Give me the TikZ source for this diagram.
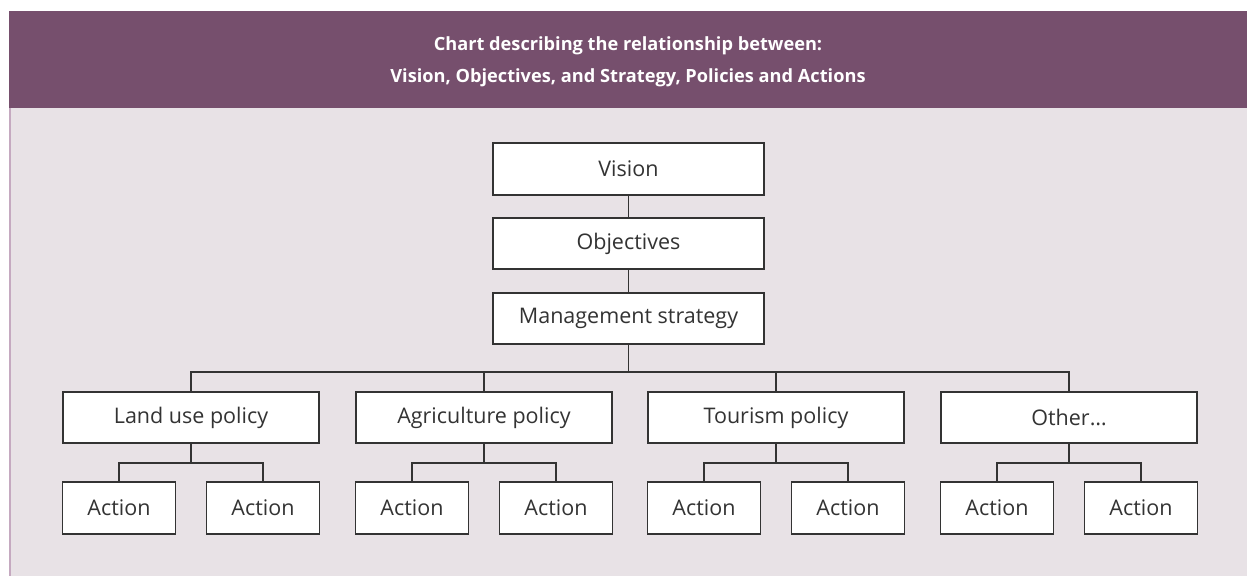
\documentclass[tikz,border=0pt]{standalone}
\usepackage{fontspec}
\setmainfont{Open Sans}
\usetikzlibrary{positioning}

\definecolor{plum}{HTML}{764F6D}
\definecolor{pale}{HTML}{E8E2E6}
\definecolor{rim}{HTML}{C5A9C0}
\definecolor{ink}{HTML}{333333}

\tikzset{
  box/.style={draw=ink, line width=1.4pt, fill=white, minimum width=271pt,
    minimum height=51pt, inner sep=0pt, font=\fontsize{21.5}{24}\selectfont, text=ink},
  policy/.style={box, minimum width=256pt},
  action/.style={box, minimum width=113pt, minimum height=52pt},
  link/.style={draw=ink, line width=1.4pt}
}

\begin{document}
\begin{tikzpicture}[x=1pt,y=-1pt]

    % these coordinates guarantee the graph's total size
    \useasboundingbox (0,0) rectangle (1247,576);

    %panel and heading
    \fill[pale] (9,108) rectangle (1247,576);
    \draw[rim, line width=1.5pt] (10,108) -- (10,576);
    \fill[plum] (9,11) rectangle (1247,108);
    \node (title) at (628,62) [text=white, align=center,
      font=\bfseries\fontsize{18.2}{32}\selectfont]
      {Chart describing the relationship between:\\
       Vision, Objectives, and Strategy, Policies and Actions};

    %upper chain
    \node (vision) at (628.5,169) [box, minimum height=52pt] {Vision};
    \node (obj) at (628.5,243.5) [box] {Objectives};
    \node (strat) at (628.5,318.5) [box] {Management strategy};
    \draw[link] (vision) -- (obj);
    \draw[link] (obj) -- (strat);

    \coordinate (bar) at (628.5,372);
    \draw[link] (strat) -- (bar);

    %policies and their actions
    \foreach \name/\x/\txt in {land/191/Land use policy, agri/484/Agriculture policy,
        tour/776/Tourism policy, other/1069/Other\ldots} {
      \node (\name) at (\x,417.5) [policy] {\txt};
      \node (\name1) at (\x-72,508) [action] {Action};
      \node (\name2) at (\x+72,508) [action] {Action};
      \coordinate (\name j) at (\x,463);
      \draw[link] (\name.north) |- (bar);
      \draw[link] (\name) -- (\name j);
      \draw[link] (\name1.north) |- (\name j);
      \draw[link] (\name2.north) |- (\name j);
    }

\end{tikzpicture}
\end{document}
